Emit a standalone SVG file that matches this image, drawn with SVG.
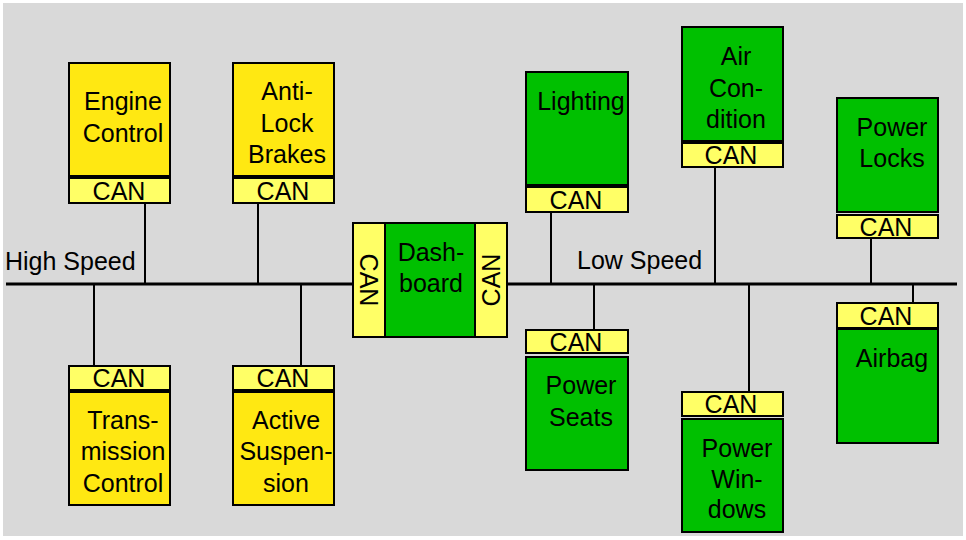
<svg xmlns="http://www.w3.org/2000/svg" width="966" height="540" viewBox="0 0 966 540">
<style>
text{font-family:"Liberation Sans",Arial,sans-serif;font-size:25px;fill:#000;text-anchor:middle}
.bus{stroke:#000;stroke-width:3;fill:none}
.wire{stroke:#000;stroke-width:2;fill:none}
.ecu{fill:#ffe812;stroke:#000;stroke-width:2}
.grn{fill:#00c000;stroke:#000;stroke-width:2}
.can{fill:#ffff66;stroke:#000;stroke-width:2}
.lbl{text-anchor:start}
</style>
<rect x="0" y="0" width="966" height="540" fill="#ffffff"/>
<rect x="3" y="3" width="960" height="533" fill="#d9d9d9"/>
<g id="connectors">
<line class="bus" x1="6" y1="284" x2="353" y2="284"/>
<line class="bus" x1="507" y1="284" x2="957" y2="284"/>
<line class="wire" x1="145" y1="203" x2="145" y2="284"/>
<line class="wire" x1="258" y1="203" x2="258" y2="284"/>
<line class="wire" x1="94" y1="284" x2="94" y2="366"/>
<line class="wire" x1="301" y1="284" x2="301" y2="366"/>
<line class="wire" x1="551" y1="212" x2="551" y2="284"/>
<line class="wire" x1="715" y1="167" x2="715" y2="284"/>
<line class="wire" x1="871" y1="238" x2="871" y2="284"/>
<line class="wire" x1="594" y1="284" x2="594" y2="330"/>
<line class="wire" x1="749" y1="284" x2="749" y2="392"/>
<line class="wire" x1="913" y1="284" x2="913" y2="303"/>
</g>
<text class="lbl" x="5" y="270">High Speed</text>
<text class="lbl" x="577" y="269">Low Speed</text>
<g id="engine">
<rect class="ecu" x="69" y="63" width="101" height="113"/>
<rect class="can" x="69" y="178" width="101" height="25"/>
<text x="123" y="110">Engine</text><text x="123" y="142">Control</text>
<text x="119" y="200">CAN</text>
</g>
<g id="abs">
<rect class="ecu" x="233" y="63" width="101" height="113"/>
<rect class="can" x="233" y="178" width="101" height="25"/>
<text x="287" y="100">Anti-</text><text x="287" y="132">Lock</text><text x="287" y="163">Brakes</text>
<text x="283" y="200">CAN</text>
</g>
<g id="transmission">
<rect class="can" x="69" y="366" width="101" height="24"/>
<rect class="ecu" x="69" y="392" width="101" height="113"/>
<text x="119" y="387">CAN</text>
<text x="123" y="429">Trans-</text><text x="123" y="460">mission</text><text x="123" y="492">Control</text>
</g>
<g id="suspension">
<rect class="can" x="233" y="366" width="101" height="24"/>
<rect class="ecu" x="233" y="392" width="101" height="113"/>
<text x="283" y="387">CAN</text>
<text x="286" y="429">Active</text><text x="286" y="460">Suspen-</text><text x="286" y="492">sion</text>
</g>
<g id="dashboard">
<rect class="grn" x="385" y="223" width="90" height="114"/>
<rect class="can" x="353" y="223" width="32" height="114"/>
<rect class="can" x="475" y="223" width="32" height="114"/>
<text x="431" y="261">Dash-</text><text x="431" y="292">board</text>
<text transform="translate(360,280) rotate(90)">CAN</text>
<text transform="translate(500,280) rotate(-90)">CAN</text>
</g>
<g id="lighting">
<rect class="grn" x="526" y="72" width="102" height="113"/>
<rect class="can" x="526" y="187" width="102" height="25"/>
<text x="581" y="110">Lighting</text>
<text x="576" y="209">CAN</text>
</g>
<g id="aircondition">
<rect class="grn" x="682" y="27" width="101" height="114"/>
<rect class="can" x="682" y="143" width="101" height="24"/>
<text x="736" y="65">Air</text><text x="736" y="97">Con-</text><text x="736" y="128">dition</text>
<text x="731" y="164">CAN</text>
</g>
<g id="powerlocks">
<rect class="grn" x="837" y="98" width="101" height="114"/>
<rect class="can" x="837" y="215" width="101" height="23"/>
<text x="892" y="136">Power</text><text x="892" y="167">Locks</text>
<text x="886" y="236">CAN</text>
</g>
<g id="powerseats">
<rect class="can" x="526" y="330" width="102" height="23"/>
<rect class="grn" x="526" y="357" width="102" height="113"/>
<text x="576" y="351">CAN</text>
<text x="581" y="394">Power</text><text x="581" y="426">Seats</text>
</g>
<g id="powerwindows">
<rect class="can" x="682" y="392" width="101" height="24"/>
<rect class="grn" x="682" y="419" width="101" height="113"/>
<text x="731" y="413">CAN</text>
<text x="737" y="457">Power</text><text x="737" y="488">Win-</text><text x="737" y="518">dows</text>
</g>
<g id="airbag">
<rect class="can" x="837" y="303" width="101" height="25"/>
<rect class="grn" x="837" y="329" width="101" height="114"/>
<text x="886" y="325">CAN</text>
<text x="892" y="367">Airbag</text>
</g>
</svg>
